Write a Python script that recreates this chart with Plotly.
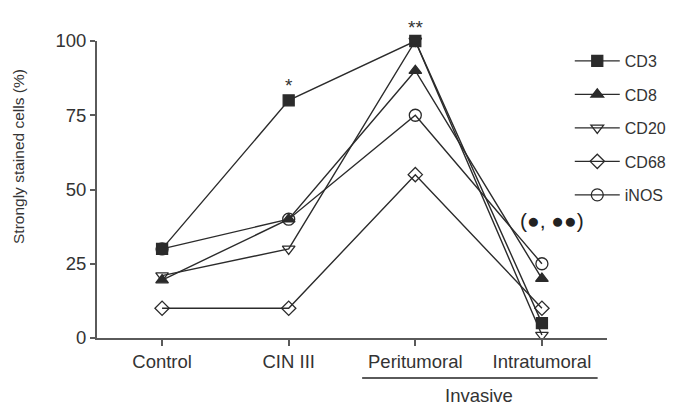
import plotly.graph_objects as go

categories = ["Control", "CIN III", "Peritumoral", "Intratumoral"]
series_names = ["CD3", "CD8", "CD20", "CD68", "iNOS"]
cd3 = [30, 80, 100, 5]
cd8 = [19.5, 40, 90, 20]
cd20 = [21, 30, 100, 1]
cd68 = [10, 10, 55, 10]
inos = [30, 40, 75, 25]
y_ticks = [0, 25, 50, 75, 100]

values = [cd3, cd8, cd20, cd68, inos]
symbols = ["square", "triangle-up", "triangle-down-open", "diamond-open", "circle-open"]
sizes = [11, 11, 11, 11, 12]

LINE = "#2b2b2b"
AX = "#5a5a5a"
TXT = "#333333"
FONT = "Liberation Sans, Arial, sans-serif"

fig = go.Figure()
xs = list(range(len(categories)))
for i, (name, vals) in enumerate(zip(series_names, values)):
    fig.add_trace(go.Scatter(
        x=xs, y=vals, name=name, mode="lines+markers",
        line=dict(color=LINE, width=1.4),
        marker=dict(symbol=symbols[i], size=sizes[i], color=LINE,
                    line=dict(color=LINE, width=1.3)),
        cliponaxis=False, legendgroup=name,
    ))

fig.update_layout(
    width=675, height=406,
    margin=dict(l=97, r=68, t=41, b=68, autoexpand=False),
    plot_bgcolor="white", paper_bgcolor="white",
    font=dict(family=FONT, color=TXT, size=16),
    showlegend=True,
    legend=dict(x=0.927, y=0.99, xanchor="left", yanchor="top",
                font=dict(size=16, color=TXT),
                tracegroupgap=9.7, itemwidth=45,
                bgcolor="rgba(0,0,0,0)"),
    xaxis=dict(range=[-0.514, 3.514], tickmode="array", tickvals=xs,
               ticktext=categories, showgrid=False, zeroline=False,
               showline=True, linecolor=AX, linewidth=2,
               ticks="outside", ticklen=6, tickcolor=AX, tickwidth=1.5,
               tickfont=dict(size=18.5, color=TXT)),
    yaxis=dict(range=[0, 100], tickmode="array", tickvals=y_ticks,
               showgrid=False, zeroline=False,
               showline=True, linecolor=AX, linewidth=2,
               ticks="outside", ticklen=5, tickcolor=AX, tickwidth=1.5,
               tickfont=dict(size=18.5, color=TXT)),
)

# y axis title
fig.add_annotation(x=(18 - 97) / 510, xref="paper", y=(338 - 157) / 297, yref="paper",
                   xanchor="center", yanchor="middle",
                   text="Strongly stained cells (%)",
                   showarrow=False, textangle=-90, font=dict(size=15.5, color=TXT))

# significance markers
fig.add_annotation(x=1, y=(338 - 73) / 297, yref="paper", text="*", showarrow=False,
                   font=dict(size=19, color=TXT))
fig.add_annotation(x=2, y=(338 - 15) / 297, yref="paper", text="**", showarrow=False,
                   font=dict(size=19, color=TXT))
fig.add_annotation(x=3.08, y=39.5, text="(\u25CF, \u25CF\u25CF)", showarrow=False,
                   font=dict(size=21, color="#222222"))

# Invasive bracket
fig.add_shape(type="line", xref="x", yref="paper", x0=1.58, x1=3.44, y0=-0.135, y1=-0.135,
              line=dict(color=AX, width=2))
fig.add_annotation(x=2.5, xref="x", y=-0.192, yref="paper", text="Invasive", showarrow=False,
                   font=dict(size=18.5, color=TXT), yanchor="middle")

fig.write_html("out.html")
